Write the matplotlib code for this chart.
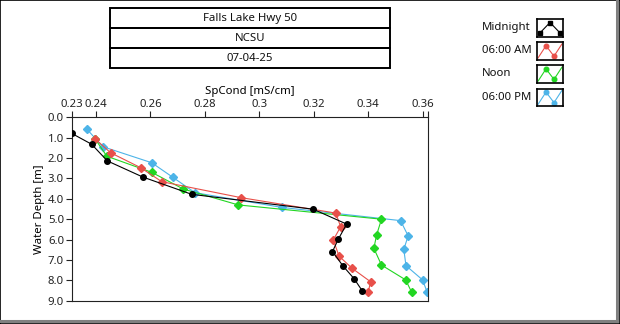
import numpy as np
import matplotlib
matplotlib.use("Agg")
import matplotlib.pyplot as plt
from matplotlib.patches import Rectangle

plt.rcParams['font.family'] = ['Noto Sans', 'DejaVu Sans']

# depth profiles, SpCond [mS/cm] vs water depth [m]
midnight_x = [0.2311, 0.2384, 0.2442, 0.2572, 0.2752, 0.3198, 0.3321, 0.3290, 0.3269, 0.3308, 0.3349, 0.3378]
midnight_y = [0.79, 1.32, 2.14, 2.93, 3.78, 4.51, 5.24, 5.99, 6.59, 7.30, 7.93, 8.51]
am6_x = [0.2397, 0.2454, 0.2564, 0.2642, 0.2932, 0.3281, 0.3299, 0.3272, 0.3293, 0.3341, 0.3409, 0.3400]
am6_y = [1.06, 1.74, 2.47, 3.16, 3.94, 4.70, 5.37, 6.02, 6.81, 7.41, 8.07, 8.59]
noon_x = [0.2397, 0.2440, 0.2605, 0.2721, 0.2923, 0.3449, 0.3431, 0.3421, 0.3449, 0.3538, 0.3560]
noon_y = [1.06, 1.91, 2.70, 3.52, 4.30, 5.00, 5.78, 6.43, 7.25, 7.98, 8.59]
pm6_x = [0.2366, 0.2425, 0.2605, 0.2682, 0.2764, 0.3082, 0.3519, 0.3547, 0.3531, 0.3539, 0.3600, 0.3617]
pm6_y = [0.57, 1.44, 2.23, 2.94, 3.70, 4.42, 5.07, 5.82, 6.48, 7.28, 7.98, 8.59]

series = [("Midnight", midnight_x, midnight_y, "#000000", "o", 5),
          ("06:00 AM", am6_x, am6_y, "#E8504A", "D", 4),
          ("Noon", noon_x, noon_y, "#22D622", "D", 3),
          ("06:00 PM", pm6_x, pm6_y, "#4DB4E8", "D", 2)]
title_rows = ["Falls Lake Hwy 50", "NCSU", "07-04-25"]

W, H = 620, 324
fig = plt.figure(figsize=(W/100, H/100), dpi=100)

def fx(px): return px/W
def fy(py): return 1 - py/H

# outer frame
fig.patches.append(Rectangle((0, 0), 1, 1, transform=fig.transFigure, fill=False, ec="black", lw=1.2))
fig.add_artist(plt.Line2D([fx(617), fx(617)], [fy(1), fy(321)], color="#808080", lw=2.2))
fig.add_artist(plt.Line2D([fx(1), fx(617)], [fy(321), fy(321)], color="#808080", lw=2.2))

# title box
for i, t in enumerate(title_rows):
    top = 8 + i*20
    fig.patches.append(Rectangle((fx(109.5), fy(top+20)), fx(390)-fx(109.5), fy(top)-fy(top+20),
                                 transform=fig.transFigure, fill=False, ec="black", lw=1.4))
    fig.text(fx(250), fy(top+10.5), t, ha="center", va="center", fontsize=8.2, color="#111111")

ax = fig.add_axes([fx(71.7), fy(300.7), fx(428.3)-fx(71.7), fy(117.3)-fy(300.7)])
for name, xs, ys, col, mk, z in series:
    ax.plot(xs, ys, color=col, lw=0.8, marker=mk, ms=4.0 if mk == "o" else 3.6,
            mec=col, mfc=col, zorder=z)

xmin = min(min(s[1]) for s in series)
xmax = max(max(s[1]) for s in series)
ax.set_xlim(xmin, xmax + 0.0004)
ax.set_ylim(9.0, 0.0)
xt = [xmin] + list(np.arange(0.24, 0.361, 0.02)) + [xmax + 0.0004]
xl = ["0.23"] + ["%g" % round(v, 2) for v in np.arange(0.24, 0.361, 0.02)] + [""]
ax.set_xticks(xt)
ax.set_xticklabels(xl)
ax.set_yticks(np.arange(0, 9.1, 1.0))
ax.set_yticklabels(["%.1f" % v for v in np.arange(0, 9.1, 1.0)])
ax.xaxis.tick_top()
ax.xaxis.set_label_position("top")
ax.tick_params(axis="both", direction="out", length=4, width=0.8, labelsize=8.2, colors="#222222", pad=1.5)
ax.set_xlabel("SpCond [mS/cm]", fontsize=8.2, labelpad=3)
ax.set_ylabel("Water Depth [m]", fontsize=8.2, labelpad=2)
for s in ax.spines.values():
    s.set_linewidth(0.8)
    s.set_color("#222222")

# legend with small icon boxes
for i, (name, xs, ys, col, mk, z) in enumerate(series):
    top = 19 + i*23.2
    fig.text(fx(482), fy(top+8.5), name, ha="left", va="center", fontsize=8.2, color="#111111")
    lax = fig.add_axes([fx(536.7), fy(top+17.5), fx(563.3)-fx(536.7), fy(top)-fy(top+17.5)])
    if mk == "o":
        ix, iy = [0.12, 0.5, 0.88], [0.2, 0.8, 0.2]
        lax.plot(ix, iy, color=col, lw=0.8, marker="s", ms=3.0, mec=col, mfc=col)
    else:
        ix, iy = [0.05, 0.35, 0.65, 0.95], [0.1, 0.8, 0.2, 0.9]
        lax.plot(ix, iy, color=col, lw=0.8)
        lax.plot(ix[1:3], iy[1:3], ls="none", marker="o", ms=3.3, mec=col, mfc=col)
    lax.set_xlim(0, 1)
    lax.set_ylim(0, 1)
    lax.set_xticks([])
    lax.set_yticks([])
    for s in lax.spines.values():
        s.set_linewidth(1.2)

fig.savefig("out.png", dpi=100)
